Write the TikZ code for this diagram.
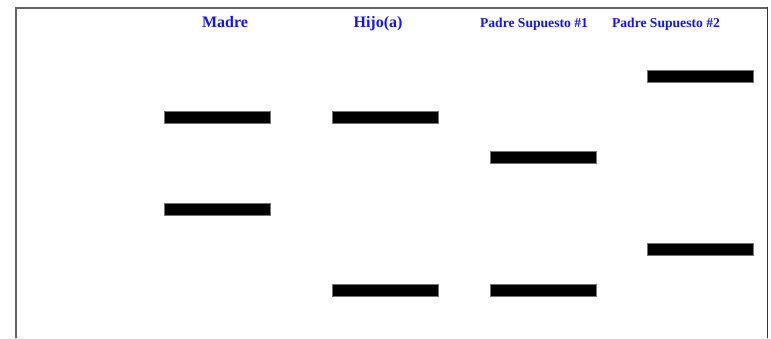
\documentclass[tikz,border=0pt]{standalone}
\usepackage{fontspec}
\setmainfont{Liberation Serif}
\definecolor{hdrblue}{RGB}{20,20,245}
\definecolor{framegray}{RGB}{100,100,100}
\begin{document}
\begin{tikzpicture}[x=1pt,y=-1pt,
  band/.style={draw=black!55,line width=0.6pt,fill=black,rectangle,minimum width=106pt,minimum height=12pt,inner sep=0pt,outer sep=0pt},
  hdrbig/.style={font=\bfseries\fontsize{16}{18}\selectfont,text=hdrblue,anchor=base,inner sep=0pt},
  hdrsmall/.style={font=\bfseries\fontsize{13.6}{16}\selectfont,text=hdrblue,anchor=base,inner sep=0pt}]
\useasboundingbox (0,0) rectangle (771,338);
% frame
\draw[framegray,line width=2pt] (15.5,338) -- (15.5,7.5) -- (767,7.5);
\draw[black!80,line width=1.5pt] (767.5,6.5) -- (767.5,338);
% headers
\node[hdrbig] (hm) at (225,27) {Madre};
\node[hdrbig] (hh) at (378,27) {Hijo(a)};
\node[hdrsmall] (hp1) at (534,27) {Padre Supuesto \#1};
\node[hdrsmall] (hp2) at (666,27) {Padre Supuesto \#2};
% bands
\node[band] (m1) at (217,117) {};
\node[band] (m2) at (217,209) {};
\node[band] (h1) at (385,117) {};
\node[band] (h2) at (385,290) {};
\node[band] (p1a) at (543,157.5) {};
\node[band] (p1b) at (543,290) {};
\node[band] (p2a) at (700,76) {};
\node[band] (p2b) at (700,249) {};
\end{tikzpicture}
\end{document}
